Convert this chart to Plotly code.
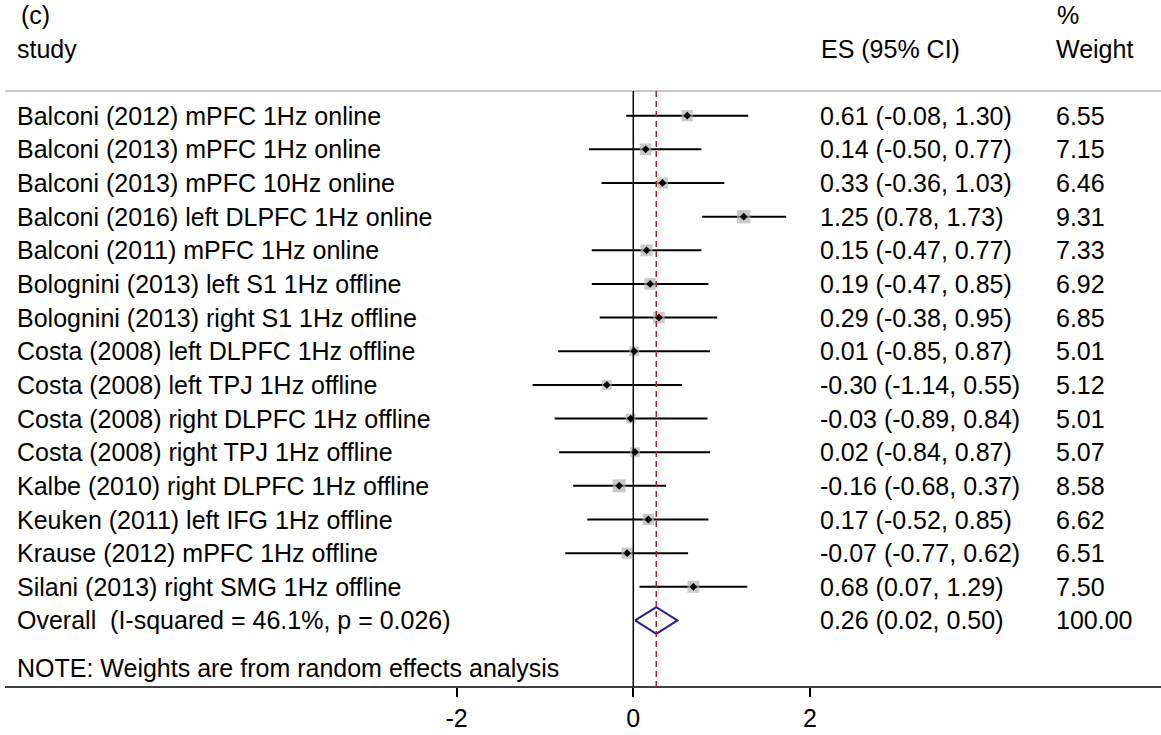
import plotly.graph_objects as go

# ---------------- data ----------------
studies = [
    "Balconi (2012) mPFC 1Hz online",
    "Balconi (2013) mPFC 1Hz online",
    "Balconi (2013) mPFC 10Hz online",
    "Balconi (2016) left DLPFC 1Hz online",
    "Balconi (2011) mPFC 1Hz online",
    "Bolognini (2013) left S1 1Hz offline",
    "Bolognini (2013) right S1 1Hz offline",
    "Costa (2008) left DLPFC 1Hz offline",
    "Costa (2008) left TPJ 1Hz offline",
    "Costa (2008) right DLPFC 1Hz offline",
    "Costa (2008) right TPJ 1Hz offline",
    "Kalbe (2010) right DLPFC 1Hz offline",
    "Keuken (2011) left IFG 1Hz offline",
    "Krause (2012) mPFC 1Hz offline",
    "Silani (2013) right SMG 1Hz offline",
]
es = [0.61, 0.14, 0.33, 1.25, 0.15, 0.19, 0.29, 0.01, -0.30, -0.03, 0.02, -0.16, 0.17, -0.07, 0.68]
ci_lo = [-0.08, -0.50, -0.36, 0.78, -0.47, -0.47, -0.38, -0.85, -1.14, -0.89, -0.84, -0.68, -0.52, -0.77, 0.07]
ci_hi = [1.30, 0.77, 1.03, 1.73, 0.77, 0.85, 0.95, 0.87, 0.55, 0.84, 0.87, 0.37, 0.85, 0.62, 1.29]
weights = [6.55, 7.15, 6.46, 9.31, 7.33, 6.92, 6.85, 5.01, 5.12, 5.01, 5.07, 8.58, 6.62, 6.51, 7.50]

overall_label = "Overall  (I-squared = 46.1%, p = 0.026)"
overall_es = 0.26
overall_lo = 0.02
overall_hi = 0.50
overall_weight = 100.00

x_ticks = [-2, 0, 2]
note_text = "NOTE: Weights are from random effects analysis"

# ---------------- style ----------------
FONT = "Liberation Sans, Arial, Helvetica, sans-serif"
FS = 25
W, H = 1161, 735
n = len(studies)
rows = list(range(n))
overall_row = n

fig = go.Figure()

# confidence interval lines
cx, cy = [], []
for i in rows:
    cx += [ci_lo[i], ci_hi[i], None]
    cy += [i, i, None]
fig.add_trace(go.Scatter(x=cx, y=cy, mode="lines",
                         line=dict(color="black", width=2),
                         hoverinfo="skip", showlegend=False))

# weight squares
fig.add_trace(go.Scatter(
    x=es, y=rows, mode="markers",
    marker=dict(symbol="square", color="#b3b3b3",
                size=[4.4 * w ** 0.5 for w in weights], line=dict(width=0)),
    hoverinfo="skip", showlegend=False))

# point estimates
fig.add_trace(go.Scatter(
    x=es, y=rows, mode="markers",
    marker=dict(symbol="diamond", color="black", size=6, line=dict(width=0)),
    hoverinfo="skip", showlegend=False))

# overall diamond
dh = 0.395
fig.add_trace(go.Scatter(
    x=[overall_lo, overall_es, overall_hi, overall_es, overall_lo],
    y=[overall_row, overall_row - dh, overall_row, overall_row + dh, overall_row],
    mode="lines", line=dict(color="#1f1f86", width=2),
    hoverinfo="skip", showlegend=False))

# y mapping (rows -> pixel rows)
row0_px = 115.7
row_step = 33.65
plot_bottom_px = 687
def prow(px):
    return (px - row0_px) / row_step

y_top = prow(0)
y_bot = prow(plot_bottom_px)
grey_row = prow(91)

# x mapping
zero_px = 633.3
unit_px = 88.35
x_min = -zero_px / unit_px
x_max = (W - zero_px) / unit_px

shapes = []
# grey separator line under headers
shapes.append(dict(type="line", xref="paper", yref="y", x0=5 / W, x1=1.0,
                   y0=grey_row, y1=grey_row, line=dict(color="#c8c8c8", width=2)))
# x axis line
shapes.append(dict(type="line", xref="paper", yref="paper", x0=5 / W, x1=1.0,
                   y0=0, y1=0, line=dict(color="black", width=1.5)))
# null line
shapes.append(dict(type="line", xref="x", yref="y", x0=0, x1=0,
                   y0=grey_row, y1=y_bot, line=dict(color="black", width=1.5)))
# overall effect dashed line
shapes.append(dict(type="line", xref="x", yref="y", x0=overall_es, x1=overall_es,
                   y0=grey_row, y1=y_bot,
                   line=dict(color="#a3232b", width=1.5, dash="6px,4px")))

ann = []
def txt(px, row, s):
    ann.append(dict(xref="paper", yref="y", x=px / W, y=row, text=s,
                    xanchor="left", yanchor="middle", showarrow=False,
                    font=dict(family=FONT, size=FS, color="black")))

def fmt_ci(e, l, h):
    return f"{e:.2f} ({l:.2f}, {h:.2f})"

ES_X = 818
WT_X = 1054

# headers
txt(19, prow(15), "(c)")
txt(15, prow(49), "study")
txt(819, prow(49), "ES (95% CI)")
txt(WT_X + 1, prow(15), "%")
txt(WT_X, prow(49), "Weight")

for i in rows:
    txt(15, i, studies[i])
    txt(ES_X, i, fmt_ci(es[i], ci_lo[i], ci_hi[i]))
    txt(WT_X, i, f"{weights[i]:.2f}")

txt(15, overall_row, overall_label)
txt(ES_X, overall_row, fmt_ci(overall_es, overall_lo, overall_hi))
txt(WT_X, overall_row, f"{overall_weight:.2f}")
txt(15, prow(668), note_text)

fig.update_layout(
    width=W, height=H,
    margin=dict(l=0, r=0, t=0, b=H - plot_bottom_px),
    paper_bgcolor="white", plot_bgcolor="white",
    shapes=shapes, annotations=ann,
    xaxis=dict(range=[x_min, x_max], tickvals=x_ticks,
               ticktext=[str(t) for t in x_ticks],
               ticks="outside", ticklen=9, tickwidth=1.5, tickcolor="black",
               showgrid=False, zeroline=False, showline=False,
               tickfont=dict(family=FONT, size=FS, color="black")),
    yaxis=dict(range=[y_bot, y_top], visible=False, showgrid=False, zeroline=False),
    font=dict(family=FONT, size=FS, color="black"),
)

fig.write_html(
    "out.html",
    config={"displayModeBar": False},
    post_script="document.body.style.margin='0';document.body.style.overflow='hidden';",
)
